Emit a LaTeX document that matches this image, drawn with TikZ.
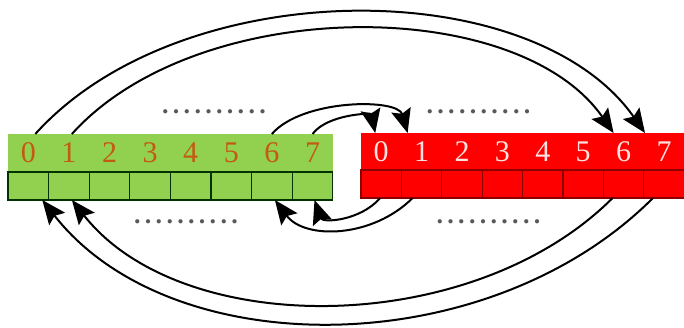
\documentclass[tikz,border=0pt]{standalone}
\usepackage{fontspec}
\setmainfont{Liberation Serif}
\definecolor{leafgreen}{RGB}{146, 208, 80}
\definecolor{rust}{RGB}{196, 89, 17}
\definecolor{pinkwhite}{RGB}{255, 225, 225}
\definecolor{darkred}{RGB}{140, 0, 0}
\usetikzlibrary{arrows.meta, positioning}
\newcommand{\dotrow}[1]{.\foreach \k in {2,...,#1}{\hspace{4.3pt}.}}

\begin{document}
\begin{tikzpicture}[x=1pt, y=-1pt,
  band/.style={minimum height=#1, inner sep=0pt, outer sep=0pt},
  gband/.style={band=38pt, fill=leafgreen, minimum width=324.8pt},
  rband/.style={band=37pt, fill=red, minimum width=323.2pt},
  gnum/.style={band=38pt, minimum width=40.6pt, text=rust, font=\fontsize{30}{30}\selectfont},
  rnum/.style={band=37pt, minimum width=40.4pt, text=pinkwhite, font=\fontsize{30}{30}\selectfont},
  gcell/.style={band=28pt, minimum width=40.6pt, fill=leafgreen, draw=black!80!green, line width=1.3pt},
  rcell/.style={band=28pt, minimum width=40.4pt, fill=red, draw=darkred, line width=1.3pt},
  dotsrow/.style={text=black!65, font=\fontsize{26}{26}\bfseries, inner sep=0pt},
  flow/.style={line width=2pt, -{Stealth[length=24pt, width=20pt, inset=4pt]}}]
  \useasboundingbox (0,0) rectangle (684,327);

  \node[gband] (gtop) at (170.4,153) {};
  \node[rband] (rtop) at (522.6,151.5) {};
  \foreach \i in {0,...,7} {
    \node[gnum] (g\i) at ({28.3+40.6*\i},153) {\i};
    \node[gcell] (gc\i) at ({28.3+40.6*\i},186) {};
    \node[rnum] (r\i) at ({381.2+40.4*\i},151.5) {\i};
    \node[rcell] (rc\i) at ({381.2+40.4*\i},184) {};
  }

  \node[dotsrow] (dtl) at (214,112) {\dotrow{10}};
  \node[dotsrow] (dtr) at (478.5,112) {\dotrow{10}};
  \node[dotsrow] (dbl) at (186,222) {\dotrow{10}};
  \node[dotsrow] (dbr) at (488.5,222) {\dotrow{10}};

  \draw[flow] ([xshift=7pt]g0.north) .. controls +(145,-161) and +(-113,-161) .. ([xshift=-19pt]r7.north);
  \draw[flow] ([xshift=3pt]g1.north) .. controls +(125,-139) and +(-97,-139) .. ([xshift=-10pt]r6.north);
  \draw[flow] (g6.north) .. controls +(30,-35) and +(-10,-35) .. ([xshift=-14pt]r1.north);
  \draw[flow] (g7.north) .. controls +(15,-20) and +(-4,-20) .. ([xshift=-6pt]r0.north);

  \draw[flow] ([xshift=-11pt]rc7.south) .. controls +(-165,165) and +(129,165) .. ([xshift=14pt]gc0.south);
  \draw[flow] ([xshift=-11pt]rc6.south) .. controls +(-140,140) and +(110,140) .. ([xshift=3pt]gc1.south);
  \draw[flow] ([xshift=-9pt]rc1.south) .. controls +(-40,40) and +(30,40) .. ([xshift=3pt]gc6.south);
  \draw[flow] ([xshift=-1pt]rc0.south) .. controls +(-20,23) and +(8,23) .. ([xshift=2pt]gc7.south);
\end{tikzpicture}
\end{document}
